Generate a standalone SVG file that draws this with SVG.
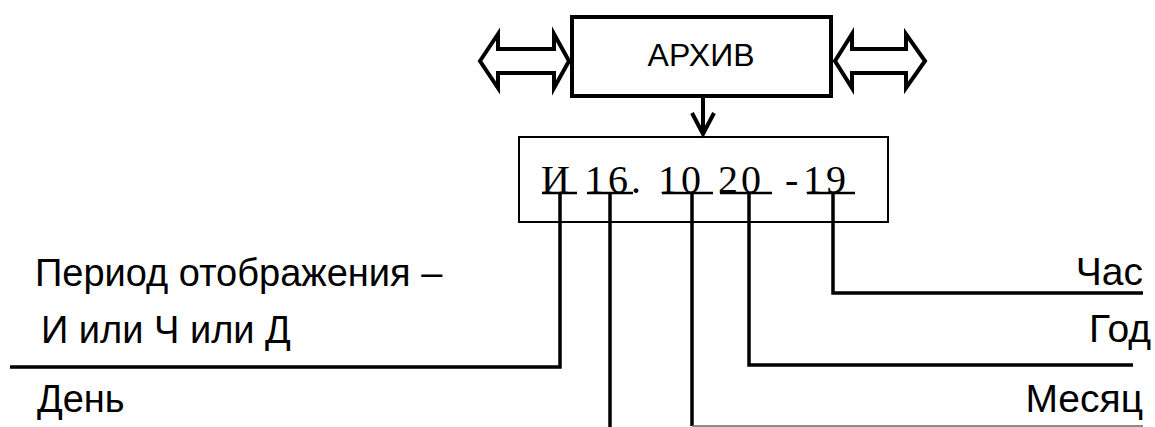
<svg xmlns="http://www.w3.org/2000/svg" width="1155" height="427" viewBox="0 0 1155 427">
<style>
.sans{font-family:"Liberation Sans",Arial,sans-serif;fill:#000}
.serif{font-family:"Liberation Serif","Times New Roman",serif;font-size:40px;letter-spacing:3px;fill:#000}
.lbl{font-size:38px}
.rl{font-size:39px}
.thick{fill:none;stroke:#000;stroke-width:3.5;stroke-linejoin:miter}
.dbl{fill:#fff;stroke:#000;stroke-width:4;stroke-linejoin:miter}
.ul{stroke:#000;stroke-width:2.5}
</style>
<rect width="1155" height="427" fill="#fff"/>
<g id="archive">
<rect x="572" y="17" width="259" height="79" fill="#fff" stroke="#000" stroke-width="4"/>
<text class="sans" x="701" y="66" font-size="32" text-anchor="middle">АРХИВ</text>
</g>
<g id="arrow-left">
<polygon class="dbl" points="480,61 498,34 498,49 554,49 554,34 569,61 554,88 554,73 498,73 498,88"/>
</g>
<g id="arrow-right">
<polygon class="dbl" points="835,61 852,34 852,49 906,49 906,34 925,61 906,88 906,73 852,73 852,88"/>
</g>
<g id="code">
<rect x="519" y="137" width="369" height="85" fill="#fff" stroke="#000" stroke-width="2"/>
<text class="serif" x="541" y="193">И</text>
<text class="serif" x="585" y="193">16.</text>
<text class="serif" x="658" y="193">10</text>
<text class="serif" x="718" y="193">20</text>
<text class="serif" x="785" y="193">-</text>
<text class="serif" x="803" y="193">19</text>
<line class="ul" x1="542" y1="193" x2="577" y2="193"/>
<line class="ul" x1="587" y1="193" x2="633" y2="193"/>
<line class="ul" x1="662" y1="193" x2="713" y2="193"/>
<line class="ul" x1="720" y1="193" x2="772" y2="193"/>
<line class="ul" x1="807" y1="193" x2="855" y2="193"/>
</g>
<g id="labels" class="sans">
<text class="lbl" x="35" y="286">Период отображения –</text>
<text class="lbl" x="41" y="343">И или Ч или Д</text>
<text class="lbl" x="37" y="412">День</text>
<text class="rl" x="1143" y="285" text-anchor="end">Час</text>
<text class="rl" x="1151" y="342" text-anchor="end">Год</text>
<text class="rl" x="1143" y="412" text-anchor="end">Месяц</text>
</g>
<g id="connectors">
<path d="M703,96 V134" stroke="#000" stroke-width="4" fill="none"/>
<path d="M692,113 L703,134 L714,113" stroke="#000" stroke-width="4" fill="none"/>
<path class="thick" d="M560,193 V367 H10"/>
<path class="thick" d="M610,193 V427"/>
<path class="thick" d="M692,193 V426"/>
<path d="M692,426 H1143" stroke="#666" stroke-width="1.5" fill="none"/>
<path class="thick" d="M749,193 V365 H1133"/>
<path class="thick" d="M833,193 V293 H1143"/>
</g>
</svg>
